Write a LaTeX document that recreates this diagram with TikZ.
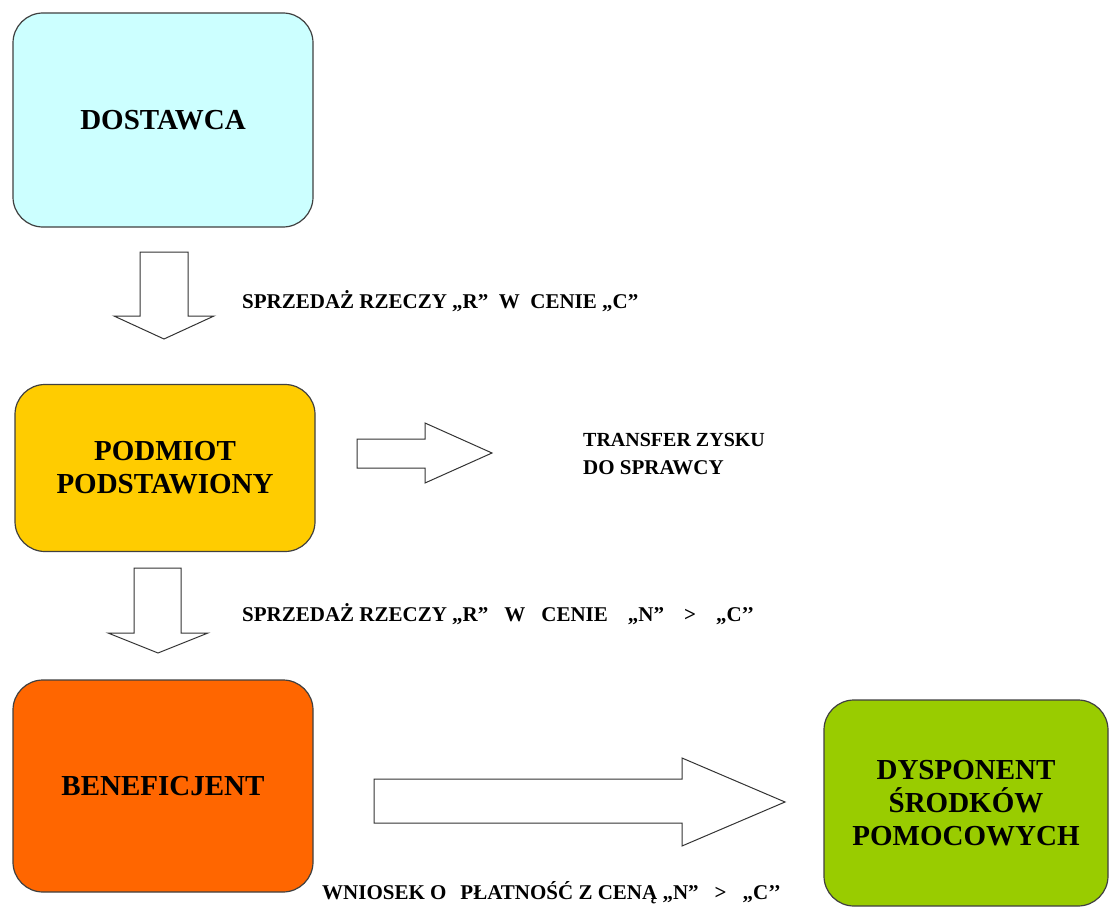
\documentclass[tikz,border=0pt]{standalone}
\usepackage{fontspec}
\setmainfont{Liberation Serif}

\definecolor{dostawcacol}{HTML}{CCFFFF}
\definecolor{podmiotcol}{HTML}{FFCC00}
\definecolor{beneficol}{HTML}{FF6600}
\definecolor{dysponcol}{HTML}{99CC00}

\tikzset{
  box/.style={shape=rectangle, draw=black!75, line width=1.2pt, rounded corners=30pt,
    align=center, inner sep=0pt, font=\fontsize{29}{33}\selectfont\bfseries},
  flowtext/.style={inner sep=0pt, font=\fontsize{21}{28}\selectfont\bfseries},
  blockarrow/.style={draw=black!80, line width=1pt, fill=white}
}

\begin{document}
\begin{tikzpicture}[x=1pt, y=-1pt]
\useasboundingbox (0,0) rectangle (1114,915);

\node [box, fill=dostawcacol, minimum width=300pt, minimum height=214pt] (N1) at (163,120) {DOSTAWCA};
\node [box, fill=podmiotcol, minimum width=300pt, minimum height=167pt] (N2) at (165,468) {PODMIOT\\PODSTAWIONY};
\node [box, fill=beneficol, minimum width=300pt, minimum height=212pt] (N3) at (163,786) {BENEFICJENT};
\node [box, fill=dysponcol, minimum width=284pt, minimum height=206pt] (N4) at (966,803) {DYSPONENT\\ŚRODKÓW\\POMOCOWYCH};

% block arrows
\draw[blockarrow] (140,252) -- (188,252) -- (188,316) -- (214,316) -- (164,339)
  -- (114,316) -- (140,316) -- cycle;
\draw[blockarrow] (134,568) -- (181,568) -- (181,633) -- (208,633) -- (158,653)
  -- (108,633) -- (134,633) -- cycle;
\draw[blockarrow] (357,439) -- (425,439) -- (425,423) -- (492,453) -- (425,483)
  -- (425,468) -- (357,468) -- cycle;
\draw[blockarrow] (374,779) -- (682,779) -- (682,758) -- (785,802) -- (682,846)
  -- (682,823) -- (374,823) -- cycle;

\node [flowtext, anchor=west] (L1) at (242,301) {SPRZEDAŻ RZECZY „R”\ \ W\ \ CENIE „C”};
\node [flowtext, anchor=west] (L2) at (242,614) {SPRZEDAŻ RZECZY „R”\hspace{16pt}W\hspace{16pt}CENIE\hspace{20pt}„N”\hspace{20pt}>\hspace{20pt}„C’’};
\node [flowtext, anchor=west, align=left] (L3) at (583,454) {\fontsize{20}{28}\selectfont TRANSFER ZYSKU\\DO SPRAWCY};
\node [flowtext, anchor=west] (L4) at (322,893) {WNIOSEK O\hspace{14pt}PŁATNOŚĆ Z CENĄ „N”\hspace{16pt}>\hspace{16pt}„C’’};
\end{tikzpicture}
\end{document}
